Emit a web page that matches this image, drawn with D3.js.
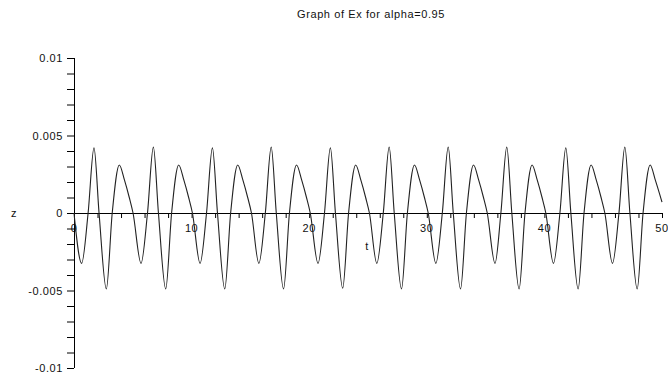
<!DOCTYPE html>
<html>
<head>
<meta charset="utf-8">
<script src="https://cdn.jsdelivr.net/npm/d3@7"></script>
<style>
  html, body { margin: 0; padding: 0; background: #fff; }
  svg { display: block; }
  text { font-family: "Liberation Sans", Arial, sans-serif; font-size: 11px; fill: #111; letter-spacing: 0.6px; }
</style>
</head>
<body>
<svg id="chart" width="668" height="383"></svg>
<script>
// Ex(t) for alpha = 0.95 — turning points and zero crossings of the trace
const tValues = [
  0.00,
  0.65, 1.20, 1.70, 2.13, 2.75, 3.25, 3.85, 4.30, 4.70, 5.02,
  5.70, 6.25, 6.75, 7.18, 7.80, 8.30, 8.90, 9.35, 9.75, 10.07,
  10.72, 11.27, 11.77, 12.20, 12.82, 13.32, 13.92, 14.37, 14.77, 15.09,
  15.72, 16.27, 16.77, 17.20, 17.82, 18.32, 18.92, 19.37, 19.77, 20.09,
  20.75, 21.30, 21.80, 22.23, 22.85, 23.35, 23.95, 24.40, 24.80, 25.12,
  25.75, 26.30, 26.80, 27.23, 27.85, 28.35, 28.95, 29.40, 29.80, 30.12,
  30.77, 31.32, 31.82, 32.25, 32.87, 33.37, 33.97, 34.42, 34.82, 35.14,
  35.80, 36.30, 36.80, 37.23, 37.85, 38.35, 38.95, 39.40, 39.80, 40.12,
  40.77, 41.32, 41.82, 42.25, 42.87, 43.37, 43.97, 44.42, 44.82, 45.14,
  45.79, 46.34, 46.84, 47.27, 47.89, 48.39, 48.99, 49.44, 50.00
];
const zValues = [
  0,
  -0.00325, 0, 0.0042, 0, -0.0049, 0, 0.0031, 0.0021, 0.0010, 0,
  -0.00325, 0, 0.00425, 0, -0.0049, 0, 0.0031, 0.0021, 0.0010, 0,
  -0.00325, 0, 0.0042, 0, -0.0049, 0, 0.0031, 0.0021, 0.0010, 0,
  -0.00325, 0, 0.00425, 0, -0.0049, 0, 0.0031, 0.0021, 0.0010, 0,
  -0.00325, 0, 0.0042, 0, -0.00485, 0, 0.0031, 0.0021, 0.0010, 0,
  -0.00325, 0, 0.00425, 0, -0.0049, 0, 0.0031, 0.0021, 0.0010, 0,
  -0.00325, 0, 0.00425, 0, -0.0049, 0, 0.0031, 0.0021, 0.0010, 0,
  -0.00325, 0, 0.00425, 0, -0.0049, 0, 0.0031, 0.0021, 0.0010, 0,
  -0.00325, 0, 0.0042, 0, -0.0049, 0, 0.0031, 0.0021, 0.0010, 0,
  -0.00325, 0, 0.00425, 0, -0.0049, 0, 0.0031, 0.0021, 0.0007
];

const xTickValues = [0, 10, 20, 30, 40, 50];
const xTickLabels = ["0", "10", "20", "30", "40", "50"];
const yTickValues = [0.01, 0.005, 0, -0.005, -0.01];
const yTickLabels = ["0.01", "0.005", "0", "-0.005", "-0.01"];
const titleText = "Graph of Ex for alpha=0.95";
const xName = "t";
const yName = "z";

const svg = d3.select("#chart");

const x = d3.scaleLinear().domain([0, 50]).range([74, 662]);
const y = d3.scaleLinear().domain([-0.01, 0.01]).range([368, 58]);

// horizontal axis through z = 0, minor ticks every 2 units
const xMinor = d3.range(0, 50.001, 2);
const xAxis = d3.axisBottom(x)
  .tickValues(xMinor)
  .tickSize(5)
  .tickFormat("");
const gx = svg.append("g")
  .attr("transform", `translate(0,${y(0)})`)
  .call(xAxis);
gx.select(".domain").attr("d", `M${x(0)},0.5H${x(50)}`);
gx.selectAll("line, path").attr("stroke", "#000").attr("stroke-width", 1);

// tick labels on the t axis
svg.append("g").selectAll("text")
  .data(xTickValues)
  .join("text")
  .attr("x", d => x(d))
  .attr("y", y(0) + 19)
  .attr("text-anchor", "middle")
  .text((d, i) => xTickLabels[i]);

// vertical axis at t = 0, minor ticks every 0.001
const yMinor = d3.range(-10, 10.001, 1).map(v => v / 1000);
const yAxis = d3.axisLeft(y)
  .tickValues(yMinor)
  .tickSize(7)
  .tickFormat("");
const gy = svg.append("g")
  .attr("transform", `translate(${x(0)},0)`)
  .call(yAxis);
gy.select(".domain").attr("d", `M0.5,${y(0.01)}V${y(-0.01)}`);
gy.selectAll("line, path").attr("stroke", "#000").attr("stroke-width", 1);

svg.append("g").selectAll("text")
  .data(yTickValues)
  .join("text")
  .attr("x", x(0) - 11)
  .attr("y", d => y(d) + 4)
  .attr("text-anchor", "end")
  .text((d, i) => yTickLabels[i]);

// axis names
svg.append("text")
  .attr("x", 14).attr("y", y(0) + 4)
  .attr("text-anchor", "middle")
  .text(yName);
svg.append("text")
  .attr("x", 367).attr("y", y(0) + 37)
  .attr("text-anchor", "middle")
  .text(xName);

// title
svg.append("text")
  .attr("x", 371).attr("y", 18)
  .attr("text-anchor", "middle")
  .text(titleText);

// the Ex trace
const pts = tValues.map((t, i) => [t, zValues[i]]);
const line = d3.line()
  .x(d => x(d[0]))
  .y(d => y(d[1]))
  .curve(d3.curveMonotoneX);
svg.append("path")
  .datum(pts)
  .attr("fill", "none")
  .attr("stroke", "#222")
  .attr("stroke-width", 1.1)
  .attr("d", line);
</script>
</body>
</html>
